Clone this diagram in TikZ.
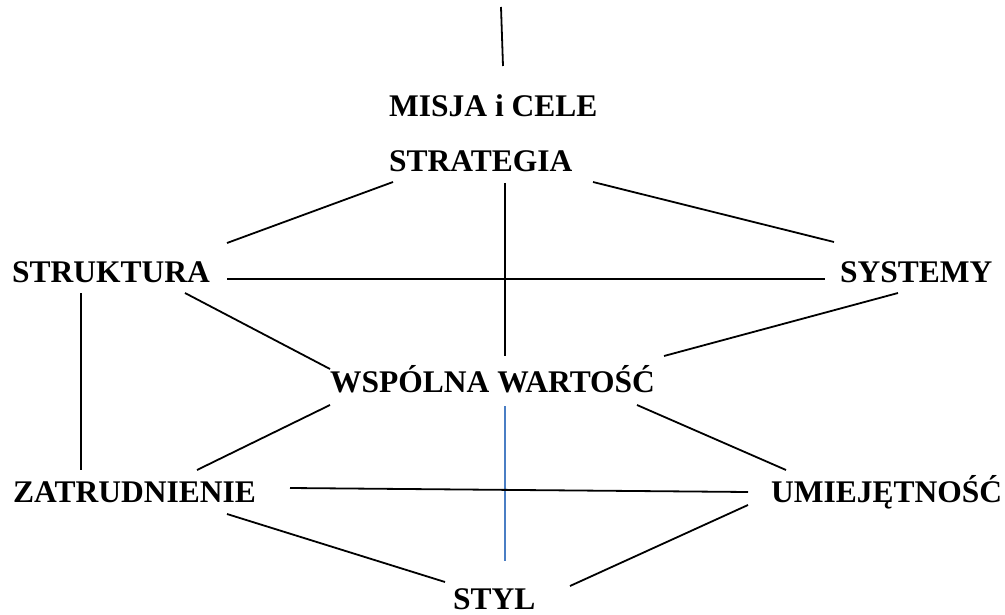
\documentclass[tikz,border=0pt]{standalone}
\usepackage{fontspec}
\setmainfont{Liberation Serif}
\usetikzlibrary{calc}
\definecolor{linkblue}{HTML}{4A7EC4}
\begin{document}
\begin{tikzpicture}[x=1pt,y=-1pt,
  label7s/.style={anchor=base west,inner sep=0pt,font=\fontsize{31.5}{36}\selectfont\bfseries},
  link/.style={line width=1.8pt,black},
  bluelink/.style={line width=1.3pt,linkblue}]
\useasboundingbox (0,0) rectangle (1005,615);

% labels of the 7S model
\node[label7s] (misja)  at (389,117) {MISJA i CELE};
\node[label7s] (strat)  at (389,172) {STRATEGIA};
\node[label7s] (strukt) at (12,283)  {STRUKTURA};
\node[label7s] (syst)   at (840,283) {SYSTEMY};
\node[label7s] (wsp)    at (330,392) {WSPÓLNA WARTOŚĆ};
\node[label7s] (zatr)   at (13,502)  {ZATRUDNIENIE};
\node[label7s] (umiej)  at (771,502) {UMIEJĘTNOŚĆ};
\node[label7s] (styl)   at (453,609) {STYL};

\coordinate (top) at (501,7);

% connectors
\draw[link] (top) -- ($(misja.base west)+(114,-51)$);
\draw[link] ($(strat.base west)+(4,10)$)   -- ($(strukt.base west)+(215,-40)$);
\draw[link] ($(strat.base west)+(116,11)$) -- ($(wsp.base west)+(175,-36)$);
\draw[link] ($(strat.base west)+(204,10)$) -- ($(syst.base west)+(-6,-41)$);
\draw[link] ($(strukt.base west)+(215,-4)$) -- ($(syst.base west)+(-15,-4)$);
\draw[link] ($(strukt.base west)+(173,10)$) -- ($(wsp.base west)+(0,-23)$);
\draw[link] ($(strukt.base west)+(69,10)$)  -- ($(zatr.base west)+(68,-32)$);
\draw[link] ($(syst.base west)+(58,10)$)    -- ($(wsp.base west)+(334,-36)$);
\draw[link] ($(wsp.base west)+(0,13)$)      -- ($(zatr.base west)+(184,-32)$);
\draw[bluelink] ($(wsp.base west)+(175,14)$) -- ($(styl.base west)+(52,-48)$);
\draw[link] ($(wsp.base west)+(307,13)$)    -- ($(umiej.base west)+(15,-32)$);
\draw[link] ($(zatr.base west)+(277,-14)$)  -- ($(umiej.base west)+(-23,-10)$);
\draw[link] ($(zatr.base west)+(214,12)$)   -- ($(styl.base west)+(-8,-27)$);
\draw[link] ($(umiej.base west)+(-23,3)$)   -- ($(styl.base west)+(117,-23)$);
\end{tikzpicture}
\end{document}
